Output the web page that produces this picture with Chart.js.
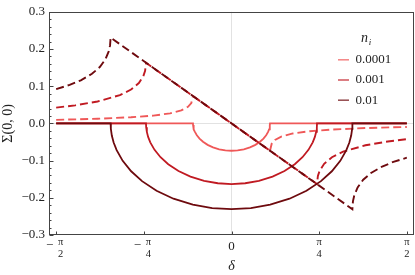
<!DOCTYPE html>
<html>
<head>
<meta charset="utf-8">
<script src="https://cdn.jsdelivr.net/npm/chart.js@4"></script>
<style>
  html, body { margin: 0; padding: 0; background: #fff; }
  canvas { display: block; }
</style>
</head>
<body>
<canvas id="chart" width="415" height="275"></canvas>
<script>
// n_i values, legend order
const seriesLabels = ["0.0001", "0.001", "0.01"];
const seriesColors = ["#ef5858", "#c01a22", "#6e0a0e"];

// solid branch: flat at 0, then the arc below the axis
const lightSolidX = [-1.5708, -0.345, -0.3443, -0.3416, -0.3364, -0.3278, -0.3105, -0.2864, -0.2553, -0.2139, -0.1656, -0.1104, -0.0552, 0, 0.0552, 0.1104, 0.1656, 0.2139, 0.2553, 0.2864, 0.3105, 0.3278, 0.3364, 0.3416, 0.3443, 0.345, 1.5708];
const lightSolidY = [0, 0, -0.0046, -0.0104, -0.0163, -0.0229, -0.0320, -0.0410, -0.0494, -0.0577, -0.0645, -0.0696, -0.0726, -0.0735, -0.0726, -0.0696, -0.0645, -0.0577, -0.0494, -0.0410, -0.0320, -0.0229, -0.0163, -0.0104, -0.0046, 0, 0];

const midSolidX = [-1.5708, -0.766, -0.7645, -0.7583, -0.7469, -0.7277, -0.6894, -0.6358, -0.5668, -0.4749, -0.3677, -0.2451, -0.1226, 0, 0.1226, 0.2451, 0.3677, 0.4749, 0.5668, 0.6358, 0.6894, 0.7277, 0.7469, 0.7583, 0.7645, 0.766, 1.5708];
const midSolidY = [0, 0, -0.0103, -0.0230, -0.0362, -0.0509, -0.0711, -0.0909, -0.1096, -0.1279, -0.1430, -0.1544, -0.1609, -0.163, -0.1609, -0.1544, -0.1430, -0.1279, -0.1096, -0.0909, -0.0711, -0.0509, -0.0362, -0.0230, -0.0103, 0, 0];

const darkSolidX = [-1.5708, -1.083, -1.0808, -1.0722, -1.0559, -1.0289, -0.9747, -0.8989, -0.8014, -0.6715, -0.5198, -0.3466, -0.1733, 0, 0.1733, 0.3466, 0.5198, 0.6715, 0.8014, 0.8989, 0.9747, 1.0289, 1.0559, 1.0722, 1.0808, 1.083, 1.5708];
const darkSolidY = [0, 0, -0.0146, -0.0326, -0.0513, -0.0720, -0.1006, -0.1287, -0.1552, -0.1810, -0.2024, -0.2186, -0.2277, -0.2307, -0.2277, -0.2186, -0.2024, -0.1810, -0.1552, -0.1287, -0.1006, -0.0720, -0.0513, -0.0326, -0.0146, 0, 0];

// dashed branch: outer tails, cusps, and the diagonal between them
const lightDashX = [-1.5708, -1.2, -0.9, -0.7, -0.55, -0.45, -0.39, -0.36, -0.345, 0.345, 0.36, 0.39, 0.45, 0.55, 0.7, 0.9, 1.2, 1.5708];
const lightDashY = [0.0095, 0.0125, 0.0165, 0.021, 0.027, 0.035, 0.0445, 0.0547, 0.0735, -0.0735, -0.0547, -0.0445, -0.035, -0.027, -0.021, -0.0165, -0.0125, -0.0095];

const midDashX = [-1.5708, -1.4, -1.2, -1.0, -0.9, -0.83, -0.79, -0.774, -0.766, 0.766, 0.774, 0.79, 0.83, 0.9, 1.0, 1.2, 1.4, 1.5708];
const midDashY = [0.0424, 0.0486, 0.0588, 0.0760, 0.0910, 0.1086, 0.1270, 0.1411, 0.163, -0.163, -0.1411, -0.1270, -0.1086, -0.0910, -0.0760, -0.0588, -0.0486, -0.0424];

const darkDashX = [-1.5708, -1.45, -1.35, -1.25, -1.18, -1.13, -1.10, -1.088, -1.083, 1.083, 1.088, 1.10, 1.13, 1.18, 1.25, 1.35, 1.45, 1.5708];
const darkDashY = [0.0922, 0.1035, 0.1159, 0.1333, 0.1515, 0.1720, 0.1933, 0.2096, 0.2307, -0.2307, -0.2096, -0.1933, -0.1720, -0.1515, -0.1333, -0.1159, -0.1035, -0.0922];

const xTickValues = [-1.5708, -0.7854, 0, 0.7854, 1.5708];
const xTickLabels = ["−π/2", "−π/4", "0", "π/4", "π/2"];
const yTickValues = [-0.3, -0.2, -0.1, 0, 0.1, 0.2, 0.3];
const yTickLabels = ["−0.3", "−0.2", "−0.1", "0.0", "0.1", "0.2", "0.3"];

const serif = '"Liberation Serif", "DejaVu Serif", serif';
const toPts = (xs, ys) => xs.map((x, i) => ({ x: x, y: ys[i] }));

const solid = [[lightSolidX, lightSolidY], [midSolidX, midSolidY], [darkSolidX, darkSolidY]];
const dashed = [[lightDashX, lightDashY], [midDashX, midDashY], [darkDashX, darkDashY]];

const datasets = [];
seriesLabels.forEach((lab, i) => {
  datasets.push({
    label: lab,
    data: toPts(solid[i][0], solid[i][1]),
    borderColor: seriesColors[i],
    borderWidth: 1.8,
    pointRadius: 0,
    order: 10 - 2 * i,
  });
  datasets.push({
    label: lab + " dashed",
    data: toPts(dashed[i][0], dashed[i][1]),
    borderColor: seriesColors[i],
    borderWidth: 1.9,
    borderDash: [8, 4],
    pointRadius: 0,
    order: 9 - 2 * i,
  });
});

const zeroGrid = (ctx) => (ctx.tick && ctx.tick.value === 0 ? "#e2e2e2" : "rgba(0,0,0,0)");

// frame, inward ticks, fraction tick labels and the legend box
const frameAndLabels = {
  id: "frameAndLabels",
  afterDraw(chart) {
    const { ctx, chartArea: a, scales: { x, y } } = chart;
    ctx.save();
    ctx.strokeStyle = "#444";
    ctx.lineWidth = 1;
    const L = Math.round(a.left) + 0.5, T = Math.round(a.top) + 0.5;
    const R = Math.round(a.right) - 0.5, B = Math.round(a.bottom) - 0.5;
    ctx.strokeRect(L, T, R - L, B - T);

    for (let k = -15; k <= 15; k++) {
      const py = Math.round(y.getPixelForValue(k * 0.02)) + 0.5;
      const len = k % 5 === 0 ? 4 : 2;
      ctx.beginPath();
      ctx.moveTo(L, py);
      ctx.lineTo(L + len, py);
      ctx.stroke();
    }
    xTickValues.forEach((v) => {
      const px = Math.round(x.getPixelForValue(v)) + 0.5;
      ctx.beginPath();
      ctx.moveTo(px, B);
      ctx.lineTo(px, B - 3);
      ctx.stroke();
    });

    ctx.fillStyle = "#222";
    ctx.textAlign = "center";
    ctx.textBaseline = "middle";
    xTickLabels.forEach((lab, i) => {
      const px = x.getPixelForValue(xTickValues[i]);
      if (!lab.includes("/")) {
        ctx.font = "13px " + serif;
        ctx.fillText(lab, px, a.bottom + 12);
        return;
      }
      const neg = lab.startsWith("−");
      const parts = (neg ? lab.slice(1) : lab).split("/");
      const fx = neg ? px + 4.5 : px;
      if (neg) {
        ctx.font = "13px " + serif;
        ctx.fillText("−", px - 6.5, a.bottom + 10.7);
      }
      ctx.font = "10.5px " + serif;
      ctx.fillText(parts[0], fx, a.bottom + 7.5);
      ctx.fillText(parts[1], fx, a.bottom + 19);
    });

    // legend
    const lx = a.right - 76, ly = a.top + 48;
    ctx.font = "italic 14px " + serif;
    ctx.fillText("n", lx + 26.5, a.top + 27);
    ctx.font = "italic 9px " + serif;
    ctx.fillText("i", lx + 32, a.top + 31);
    ctx.textAlign = "left";
    ctx.font = "13px " + serif;
    seriesLabels.forEach((lab, i) => {
      const yy = ly + i * 20.2;
      ctx.globalAlpha = 0.7;
      ctx.strokeStyle = seriesColors[i];
      ctx.lineWidth = 1.6;
      ctx.beginPath();
      ctx.moveTo(lx, yy);
      ctx.lineTo(lx + 11, yy);
      ctx.stroke();
      ctx.globalAlpha = 1;
      ctx.fillText(lab, lx + 17.5, yy);
    });
    ctx.restore();
  },
};

new Chart(document.getElementById("chart"), {
  type: "line",
  data: { datasets: datasets },
  options: {
    responsive: false,
    animation: false,
    devicePixelRatio: 1,
    layout: { padding: { top: 9, right: 1, left: 0, bottom: 0 } },
    plugins: { legend: { display: false }, tooltip: { enabled: false } },
    elements: { line: { tension: 0 } },
    scales: {
      x: {
        type: "linear",
        min: -1.635,
        max: 1.635,
        afterBuildTicks: (axis) => { axis.ticks = xTickValues.map((v) => ({ value: v })); },
        afterFit: (axis) => { axis.height = 40; },
        ticks: { display: false },
        grid: { color: zeroGrid, drawTicks: false, lineWidth: 1 },
        border: { display: false },
        title: { display: true, text: "δ", color: "#222", font: { family: serif, size: 14, style: "italic" }, padding: { top: 0, bottom: 0 } },
      },
      y: {
        min: -0.3,
        max: 0.3,
        afterBuildTicks: (axis) => { axis.ticks = yTickValues.map((v) => ({ value: v })); },
        afterFit: (axis) => { axis.width = 49; },
        ticks: { callback: (v, i) => yTickLabels[i], color: "#222", padding: 4, font: { family: serif, size: 13 } },
        grid: { color: zeroGrid, drawTicks: false, lineWidth: 1 },
        border: { display: false },
        title: { display: true, text: "Σ(0, 0)", color: "#222", font: { family: serif, size: 14 }, padding: { top: 0, bottom: 0 } },
      },
    },
  },
  plugins: [frameAndLabels],
});
</script>
</body>
</html>
